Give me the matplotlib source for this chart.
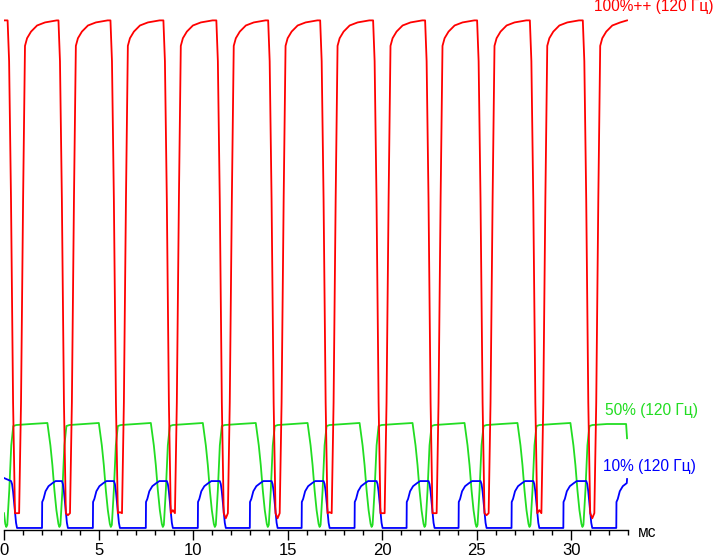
import matplotlib
matplotlib.use("Agg")
import matplotlib.pyplot as plt
import numpy as np

plt.rcParams['font.family'] = ['Liberation Sans', 'DejaVu Sans']

# time axis, ms
t_end = 32.95

# red 100%++ : dip centres (ms) and depth of each dip
red_dips = [0.69, 3.38, 6.13, 8.93, 11.73, 14.47, 17.22, 20.02, 22.77, 25.52, 28.31, 31.11]
red_bottoms = [3.3, 2.9, 3.5, 3.9, 2.3, 2.3, 3.5, 3.3, 3.3, 2.9, 3.9, 2.3]
# shape of one dip (offset ms, level)
red_dt = [-0.50, -0.42, -0.32, -0.21, -0.11, 0.0, 0.11, 0.21, 0.32, 0.42, 0.53, 0.74, 1.06, 1.48, 2.10]
red_lv = [100.0, 92.0, 65.0, 25.0, 3.3, None, 3.3, 25.0, 65.0, 95.0, 96.5, 97.8, 99.0, 99.6, 100.0]

# green 50% : dip centres
green_dips = [0.12, 2.93, 5.65, 8.40, 11.15, 13.95, 16.69, 19.44, 22.24, 24.99, 27.79, 30.59]
green_dt = [-0.635, -0.582, -0.476, -0.370, -0.264, -0.159, -0.053, 0.0, 0.053, 0.159, 0.264, 0.370, 0.529, 1.30]
green_lv = [21.0, 19.5, 16.6, 12.7, 7.8, 3.9, 1.2, 0.6, 1.0, 7.8, 16.6, 20.4, 20.6, 20.8]
green_tail_t = [32.90, 32.95]
green_tail_v = [20.8, 18.0]

# blue 10% : pulse rise times and the times it is back at zero
blue_rises = [2.01, 4.70, 7.50, 10.25, 13.00, 15.74, 18.54, 21.29, 24.04, 26.84, 29.58, 32.38]
blue_falls = [0.69, 3.38, 6.13, 8.93, 11.73, 14.47, 17.22, 20.02, 22.77, 25.52, 28.31, 31.11]
rise_dt = [0.0, 0.01, 0.08, 0.185, 0.345, 0.555, 0.714]
rise_lv = [0.4, 5.5, 6.1, 7.6, 8.6, 9.2, 9.6]
fall_dt = [-0.317, -0.264, -0.212, -0.159, -0.106, -0.053, 0.0]
fall_lv = [9.6, 9.0, 7.6, 5.5, 3.3, 1.4, 0.4]


def build(start, pieces, tail_t, tail_v):
    t, v = [start[0]], [start[1]]
    for t0, dts, lvs in pieces:
        for dt, lv in zip(dts, lvs):
            tt = t0 + dt
            if t[-1] < tt < tail_t[0]:
                t.append(tt)
                v.append(lv)
    t.extend(tail_t)
    v.extend(tail_v)
    return np.array(t), np.array(v)


red_pieces = []
for c, b in zip(red_dips, red_bottoms):
    red_pieces.append((c, red_dt, [b if lv is None else lv for lv in red_lv]))
red_t, red_v = build((0.0, 100.0), red_pieces, [t_end], [100.0])

green_pieces = [(g, green_dt, green_lv) for g in green_dips]
green_t, green_v = build((0.0, 3.3), green_pieces, green_tail_t, green_tail_v)

blue_pieces = []
for i, f in enumerate(blue_falls):
    if i > 0:
        blue_pieces.append((blue_rises[i - 1], rise_dt, rise_lv))
    blue_pieces.append((f, fall_dt, fall_lv))
blue_pieces.append((blue_rises[-1], rise_dt, rise_lv))
blue_t, blue_v = build((0.0, 10.2), blue_pieces, [t_end], [10.0])

fig = plt.figure(figsize=(7.15, 5.58), dpi=100)
ax = fig.add_axes([4/715, 28/558, 624/715, 530/558])

ax.plot(green_t, green_v, color='#22dd22', lw=1.3, zorder=2)
ax.plot(blue_t, blue_v, color='#0000ff', lw=1.3, zorder=3)
ax.plot(red_t, red_v, color='#ff0000', lw=1.3, zorder=4)

ax.set_xlim(0, 33)
ax.set_ylim(0, 104)
for s in ['left', 'right', 'top']:
    ax.spines[s].set_visible(False)
ax.spines['bottom'].set_linewidth(1.0)
ax.set_yticks([])
ax.set_xticks(range(0, 31, 5))
ax.set_xticks(range(0, 34), minor=True)
ax.tick_params(which='major', length=7.5, width=1, direction='out', labelsize=12, pad=2)
ax.tick_params(which='minor', length=3.6, width=1, direction='out')

fig.text(714/715, 1 - 7/558, '100%++ (120 Гц)', ha='right', va='center', color='#ff0000', fontsize=11.2)
fig.text(605/715, 1 - 410/558, '50% (120 Гц)', ha='left', va='center', color='#22dd22', fontsize=11.2)
fig.text(603/715, 1 - 466/558, '10% (120 Гц)', ha='left', va='center', color='#0000ff', fontsize=11.2)
fig.text(638/715, 1 - 537/558, 'мс', ha='left', va='baseline', color='black', fontsize=11.2)

plt.savefig('out.png', dpi=100)
